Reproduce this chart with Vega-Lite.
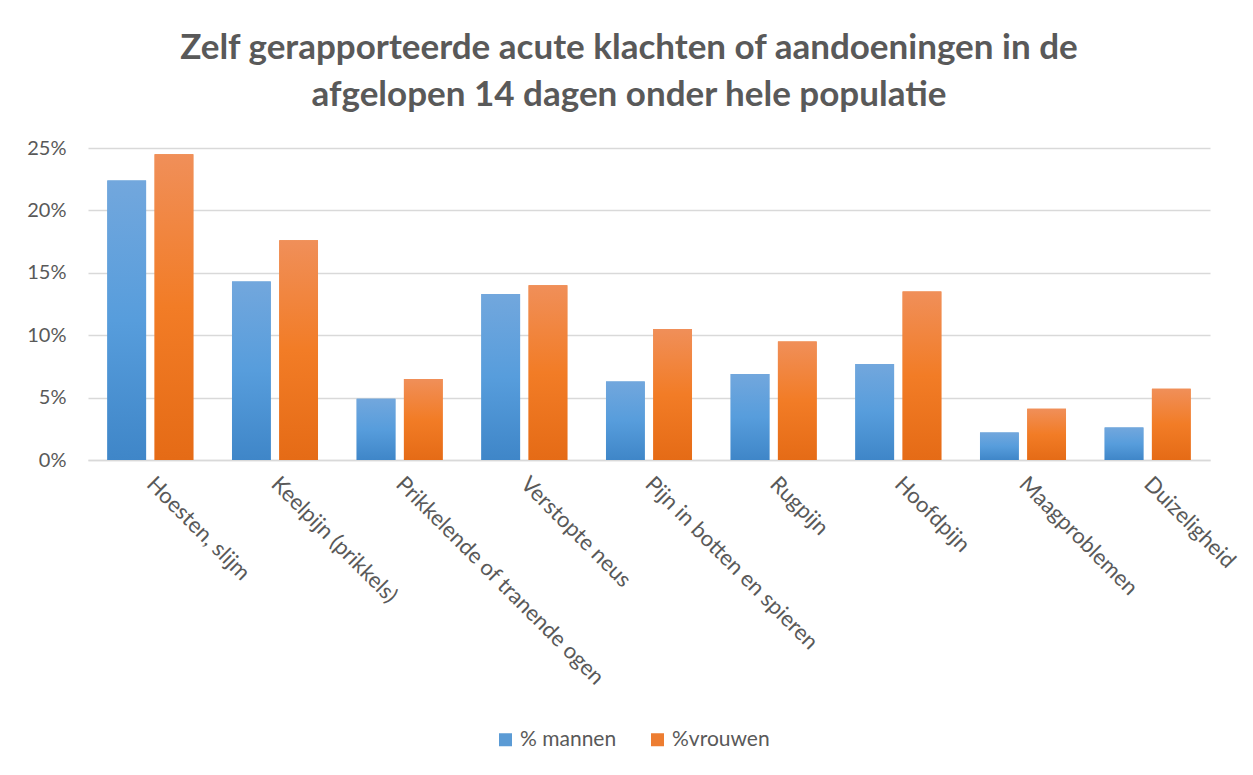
{
  "$schema": "https://vega.github.io/schema/vega-lite/v6.json",
  "autosize": {"type": "none"},
  "width": 1122,
  "height": 312,
  "padding": {"left": 88, "top": 148, "right": 43, "bottom": 315},
  "background": "white",
  "title": {
    "text": ["Zelf gerapporteerde acute klachten of aandoeningen in de", "afgelopen 14 dagen onder hele populatie"],
    "font": "Lato",
    "fontSize": 35,
    "fontWeight": "bold",
    "color": "#595959",
    "anchor": "middle",
    "dx": -20,
    "lineHeight": 47,
    "offset": 25
  },
  "data": {
    "values": [
      {"k": "Hoesten, slijm", "s": "% mannen", "v": 0.224},
      {"k": "Hoesten, slijm", "s": "%vrouwen", "v": 0.245},
      {"k": "Keelpijn (prikkels)", "s": "% mannen", "v": 0.143},
      {"k": "Keelpijn (prikkels)", "s": "%vrouwen", "v": 0.176},
      {"k": "Prikkelende of tranende ogen", "s": "% mannen", "v": 0.049},
      {"k": "Prikkelende of tranende ogen", "s": "%vrouwen", "v": 0.065},
      {"k": "Verstopte neus", "s": "% mannen", "v": 0.133},
      {"k": "Verstopte neus", "s": "%vrouwen", "v": 0.140},
      {"k": "Pijn in botten en spieren", "s": "% mannen", "v": 0.063},
      {"k": "Pijn in botten en spieren", "s": "%vrouwen", "v": 0.105},
      {"k": "Rugpijn", "s": "% mannen", "v": 0.069},
      {"k": "Rugpijn", "s": "%vrouwen", "v": 0.095},
      {"k": "Hoofdpijn", "s": "% mannen", "v": 0.077},
      {"k": "Hoofdpijn", "s": "%vrouwen", "v": 0.135},
      {"k": "Maagproblemen", "s": "% mannen", "v": 0.022},
      {"k": "Maagproblemen", "s": "%vrouwen", "v": 0.041},
      {"k": "Duizeligheid", "s": "% mannen", "v": 0.026},
      {"k": "Duizeligheid", "s": "%vrouwen", "v": 0.057}
    ]
  },
  "encoding": {
    "x": {
      "field": "k", "type": "nominal", "sort": null, "title": null,
      "scale": {"paddingInner": 0.31, "paddingOuter": 0.155},
      "axis": {
        "labelAngle": 45, "labelAlign": "left", "labelBaseline": "middle",
        "labelFont": "Lato", "labelFontSize": 22, "labelColor": "#595959",
        "labelPadding": 20, "ticks": false, "domainColor": "#d9d9d9", "domainWidth": 1.5,
        "labelLimit": 400, "labelOffset": 0
      }
    },
    "xOffset": {"field": "s", "type": "nominal", "scale": {"domain": ["% mannen", "%vrouwen"], "paddingInner": 0.18}},
    "y": {
      "field": "v", "type": "quantitative", "title": null,
      "scale": {"domain": [0, 0.25], "nice": false},
      "axis": {
        "format": ".0%", "values": [0, 0.05, 0.1, 0.15, 0.2, 0.25], "labelOverlap": false,
        "labelFont": "Lato", "labelFontSize": 20, "labelColor": "#595959",
        "labelPadding": 22, "ticks": false, "domain": false,
        "gridColor": "#d9d9d9", "gridWidth": 1.5
      }
    }
  },
  "layer": [
    {
      "mark": {"type": "bar"},
      "encoding": {
        "color": {
          "field": "s", "type": "nominal",
          "scale": {"domain": ["% mannen", "%vrouwen"], "range": ["#5b9bd5", "#ed7d31"]},
          "legend": {
            "title": null, "orient": "none", "direction": "horizontal",
            "legendX": 407, "legendY": 581,
            "symbolType": "square", "symbolSize": 169, "symbolStrokeWidth": 0,
            "labelFont": "Lato", "labelFontSize": 21, "labelColor": "#595959",
            "columnPadding": 30, "labelOffset": 4
          }
        }
      }
    },
    {
      "transform": [{"filter": "datum.s === '% mannen'"}],
      "mark": {
        "type": "bar",
        "color": {"gradient": "linear", "x1": 0, "y1": 0, "x2": 0, "y2": 1,
          "stops": [{"offset": 0, "color": "#72a7dd"}, {"offset": 0.5, "color": "#579ddc"}, {"offset": 1, "color": "#3f86c8"}]}
      }
    },
    {
      "transform": [{"filter": "datum.s === '%vrouwen'"}],
      "mark": {
        "type": "bar",
        "color": {"gradient": "linear", "x1": 0, "y1": 0, "x2": 0, "y2": 1,
          "stops": [{"offset": 0, "color": "#f08f59"}, {"offset": 0.5, "color": "#f27c26"}, {"offset": 1, "color": "#e56b16"}]}
      }
    }
  ],
  "config": {"view": {"stroke": null}}
}
